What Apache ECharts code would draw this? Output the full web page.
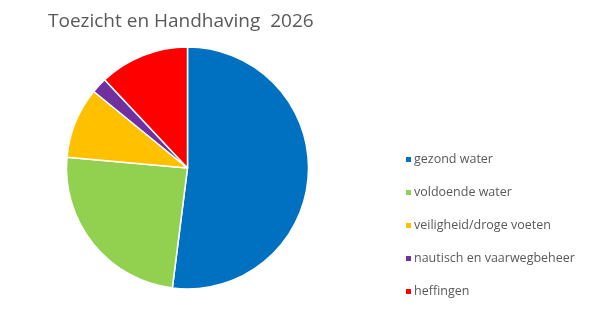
<!DOCTYPE html>
<html><head><meta charset="utf-8">
<script src="https://cdn.jsdelivr.net/npm/echarts@6/dist/echarts.min.js"></script>
<style>html,body{margin:0;padding:0;background:#fff}#c{width:602px;height:332px}</style>
</head><body><div id="c"></div>
<script>
const categories = ['gezond water', 'voldoende water', 'veiligheid/droge voeten', 'nautisch en vaarwegbeheer', 'heffingen'];
const values = [52.0, 24.4, 9.5, 2.1, 12.0];
const colors = ['#0070C0', '#92D050', '#FFC000', '#7030A0', '#FF0000'];
const titleText = 'Toezicht en Handhaving  2026';

const chart = echarts.init(document.getElementById('c'), null, {renderer: 'canvas'});
chart.setOption({
  animation: false,
  color: colors,
  title: {
    text: titleText,
    left: 43, top: 7,
    textStyle: {fontFamily: 'Open Sans', fontSize: 19, fontWeight: 'normal', color: '#595959'}
  },
  legend: {
    orient: 'vertical',
    left: 399, top: 147,
    itemWidth: 7, itemHeight: 7, itemGap: 18,
    icon: 'rect',
    textStyle: {fontFamily: 'Open Sans', fontSize: 12.5, color: '#595959', lineHeight: 15, padding: [0,0,0,-3]},
    data: categories
  },
  series: [{
    type: 'pie',
    center: [187.5, 168],
    radius: [0, 121],
    startAngle: 90,
    clockwise: true,
    label: {show: false},
    labelLine: {show: false},
    itemStyle: {borderColor: '#ffffff', borderWidth: 1.5},
    emphasis: {disabled: true},
    data: categories.map((n, i) => ({name: n, value: values[i]}))
  }]
});
</script></body></html>
